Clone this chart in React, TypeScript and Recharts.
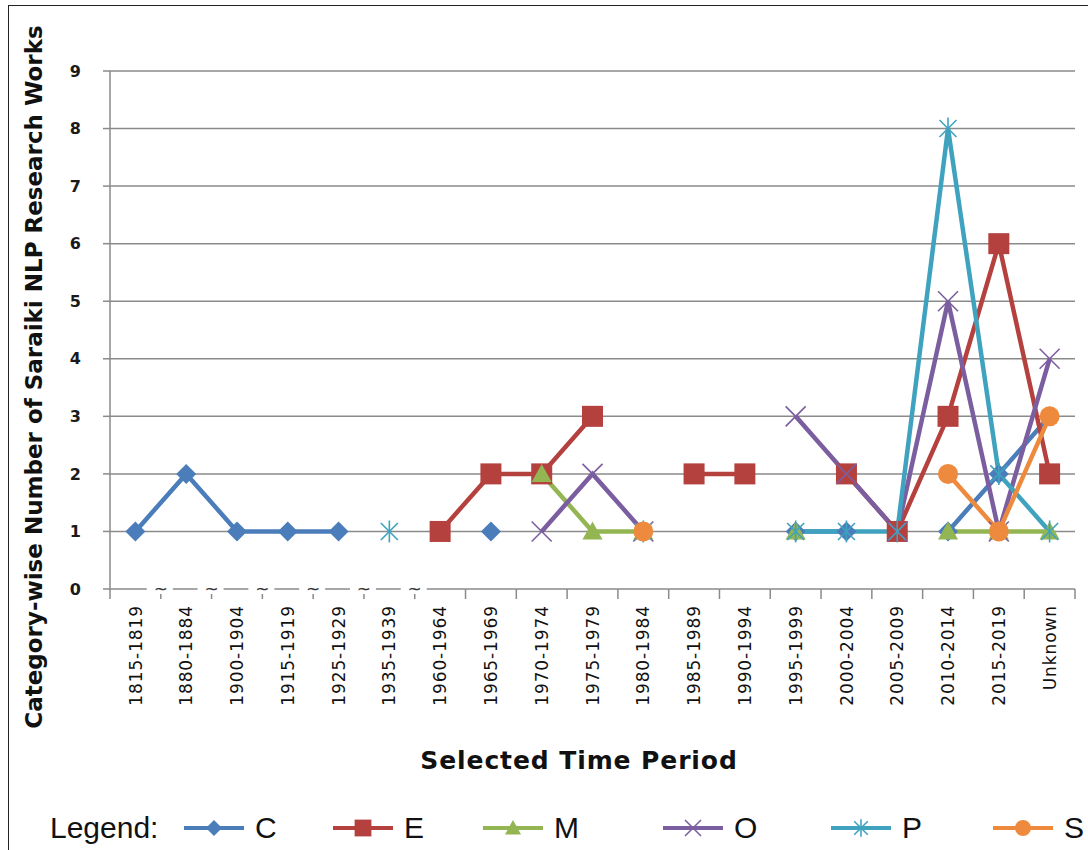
import React from 'react'
import { LineChart, Line, XAxis, YAxis, CartesianGrid } from 'recharts'

const CATEGORIES = [
  '1815-1819', '1880-1884', '1900-1904', '1915-1919', '1925-1929', '1935-1939',
  '1960-1964', '1965-1969', '1970-1974', '1975-1979', '1980-1984', '1985-1989',
  '1990-1994', '1995-1999', '2000-2004', '2005-2009', '2010-2014', '2015-2019', 'Unknown',
]

const C_VALUES = [1, 2, 1, 1, 1, null, null, 1, null, null, null, null, null, 1, 1, null, 1, 2, 3]
const E_VALUES = [null, null, null, null, null, null, 1, 2, 2, 3, null, 2, 2, null, 2, 1, 3, 6, 2]
const M_VALUES = [null, null, null, null, null, null, null, null, 2, 1, 1, null, null, 1, null, null, 1, 1, 1]
const O_VALUES = [null, null, null, null, null, null, null, null, 1, 2, 1, null, null, 3, 2, 1, 5, 1, 4]
const P_VALUES = [null, null, null, null, null, 1, null, null, null, null, 1, null, null, 1, 1, 1, 8, 2, 1]
const S_VALUES = [null, null, null, null, null, null, null, null, null, null, 1, null, null, null, null, null, 2, 1, 3]

const Y_TICKS = [0, 1, 2, 3, 4, 5, 6, 7, 8, 9]
// axis breaks ("~") sit after these categories
const BREAK_AFTER = [0, 1, 2, 3, 4, 5]

const SERIES = [
  { key: 'C', values: C_VALUES, color: '#4A7DBA', marker: 'diamond' },
  { key: 'E', values: E_VALUES, color: '#B5413F', marker: 'square' },
  { key: 'M', values: M_VALUES, color: '#93B653', marker: 'triangle' },
  { key: 'O', values: O_VALUES, color: '#7B5EA0', marker: 'x' },
  { key: 'P', values: P_VALUES, color: '#3FA3BF', marker: 'star' },
  { key: 'S', values: S_VALUES, color: '#EE8A3E', marker: 'circle' },
]

const rows = CATEGORIES.map((period, i) => {
  const row: Record<string, any> = { period }
  SERIES.forEach(s => { row[s.key] = s.values[i] })
  return row
})

const W = 1088
const H = 850
const MARGIN = { top: 71, right: 13, bottom: 131, left: 50 }
const Y_AXIS_W = 60
const PLOT_W = W - MARGIN.left - MARGIN.right - Y_AXIS_W
const BAND = PLOT_W / CATEGORIES.length
const AXIS_GRAY = '#8a8a8a'
// left edge of each legend entry (layout only)
const LEGEND_LEFT = [183, 332, 482, 662, 830, 992]

function Marker({ type, cx, cy, color, s = 1 }: { type: string; cx: number; cy: number; color: string; s?: number }) {
  const r = 10 * s
  switch (type) {
    case 'diamond':
      return <polygon points={`${cx},${cy - r} ${cx + r},${cy} ${cx},${cy + r} ${cx - r},${cy}`} fill={color} />
    case 'square':
      return <rect x={cx - r * 1.05} y={cy - r * 1.05} width={2.1 * r} height={2.1 * r} fill={color} />
    case 'triangle':
      return <polygon points={`${cx},${cy - r} ${cx + r},${cy + r * 0.8} ${cx - r},${cy + r * 0.8}`} fill={color} />
    case 'x':
      return (
        <g stroke={color} strokeWidth={1.6}>
          <line x1={cx - r} y1={cy - r} x2={cx + r} y2={cy + r} />
          <line x1={cx - r} y1={cy + r} x2={cx + r} y2={cy - r} />
        </g>
      )
    case 'star':
      return (
        <g stroke={color} strokeWidth={1.6}>
          <line x1={cx - r * 0.85} y1={cy - r * 0.85} x2={cx + r * 0.85} y2={cy + r * 0.85} />
          <line x1={cx - r * 0.85} y1={cy + r * 0.85} x2={cx + r * 0.85} y2={cy - r * 0.85} />
          <line x1={cx} y1={cy - r * 1.1} x2={cx} y2={cy + r * 1.1} />
        </g>
      )
    default:
      return <circle cx={cx} cy={cy} r={r} fill={color} />
  }
}

function PeriodTick(props: any) {
  const { x, y, payload, index } = props
  const left = x - BAND / 2
  const right = x + BAND / 2
  const brokenLeft = BREAK_AFTER.includes(index - 1)
  const brokenRight = BREAK_AFTER.includes(index)
  const isLast = index === CATEGORIES.length - 1
  return (
    <g>
      <line
        x1={brokenLeft ? left + 12 : left}
        x2={brokenRight ? right - 14 : right}
        y1={y}
        y2={y}
        stroke={AXIS_GRAY}
        strokeWidth={1.5}
      />
      <line x1={left} x2={left} y1={brokenLeft ? y + 5 : y} y2={y + 10} stroke={AXIS_GRAY} strokeWidth={1.5} />
      {isLast && <line x1={right} x2={right} y1={y} y2={y + 10} stroke={AXIS_GRAY} strokeWidth={1.5} />}
      {brokenRight && (
        <text x={right} y={y + 6} textAnchor="middle" fontSize={17} fontFamily="DejaVu Sans" fill="#333">~</text>
      )}
      <text
        x={x}
        y={y + 16}
        transform={`rotate(-90, ${x}, ${y + 16})`}
        textAnchor="end"
        dy="0.36em"
        fontSize={17}
        letterSpacing={0.9}
        fontFamily="DejaVu Sans"
        fill="#111"
      >
        {payload.value}
      </text>
    </g>
  )
}

function Legend() {
  return (
    <div
      style={{
        position: 'absolute',
        left: 0,
        top: 810,
        width: W,
        height: 36,
        fontFamily: 'Liberation Sans',
        fontSize: 30,
        lineHeight: '36px',
        color: '#111',
      }}
    >
      <span style={{ position: 'absolute', left: 50 }}>Legend:</span>
      {SERIES.map((s, i) => (
        <div key={s.key} style={{ position: 'absolute', left: LEGEND_LEFT[i], display: 'flex', alignItems: 'center' }}>
          <svg width={62} height={36}>
            <line x1={1} x2={61} y1={18} y2={18} stroke={s.color} strokeWidth={4} />
            <Marker type={s.marker} cx={31} cy={18} color={s.color} s={0.8} />
          </svg>
          <span style={{ marginLeft: 10 }}>{s.key}</span>
        </div>
      ))}
    </div>
  )
}

export default function App() {
  return (
    <div style={{ position: 'absolute', left: 0, top: 0, width: W, height: H, background: '#fff', overflow: 'hidden' }}>
      <div style={{ position: 'absolute', left: 8, top: 5, right: 0, bottom: 0, borderLeft: '1.5px solid #222', borderTop: '1.5px solid #222' }} />
      <LineChart width={W} height={H} data={rows} margin={MARGIN}>
        <CartesianGrid vertical={false} horizontalValues={Y_TICKS.filter(v => v > 0)} stroke={AXIS_GRAY} strokeWidth={1.5} />
        <XAxis
          dataKey="period"
          interval={0}
          axisLine={false}
          tickLine={false}
          tickSize={0}
          tickMargin={0}
          height={130}
          padding={{ left: BAND / 2, right: BAND / 2 }}
          tick={<PeriodTick />}
        />
        <YAxis
          domain={[0, 9]}
          ticks={Y_TICKS}
          interval={0}
          width={Y_AXIS_W}
          tickSize={7}
          tickMargin={22}
          stroke={AXIS_GRAY}
          strokeWidth={1.5}
          tick={{ fill: '#1a1a1a', fontSize: 16, fontWeight: 700, fontFamily: 'DejaVu Sans' }}
        />
        {SERIES.map(s => (
          <Line
            key={s.key}
            dataKey={s.key}
            stroke={s.color}
            strokeWidth={4.5}
            isAnimationActive={false}
            activeDot={false}
            dot={(p: any) =>
              p.cy == null ? <g key={`${s.key}-${p.index}`} /> : (
                <g key={`${s.key}-${p.index}`}>
                  <Marker type={s.marker} cx={p.cx} cy={p.cy} color={s.color} />
                </g>
              )
            }
          />
        ))}
      </LineChart>
      <div
        style={{
          position: 'absolute',
          left: 34,
          top: 377,
          transform: 'translate(-50%, -50%) rotate(-90deg)',
          whiteSpace: 'nowrap',
          fontFamily: 'DejaVu Sans',
          fontWeight: 700,
          fontSize: 23,
          color: '#111',
        }}
      >
        Category-wise Number of Saraiki NLP Research Works
      </div>
      <div
        style={{
          position: 'absolute',
          left: 579,
          top: 760,
          transform: 'translate(-50%, -50%)',
          whiteSpace: 'nowrap',
          fontFamily: 'DejaVu Sans',
          fontWeight: 700,
          fontSize: 25,
          letterSpacing: 0.9,
          color: '#111',
        }}
      >
        Selected Time Period
      </div>
      <Legend />
    </div>
  )
}
